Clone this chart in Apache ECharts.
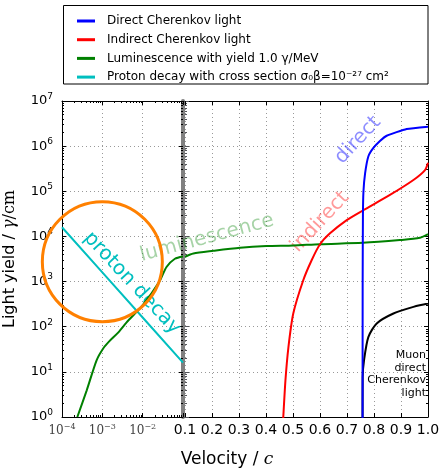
<!DOCTYPE html>
<html>
<head>
<meta charset="utf-8">
<script src="https://cdn.jsdelivr.net/npm/echarts@6/dist/echarts.min.js"></script>
<style>
html, body { margin: 0; padding: 0; background: #fff; }
#chart { width: 440px; height: 474px; }
</style>
</head>
<body>
<div id="chart"></div>
<script>
// values (velocity in units of c, light yield in photons/cm)
var legendNames = [
  'Direct Cherenkov light',
  'Indirect Cherenkov light',
  'Luminescence with yield 1.0 \u03b3/MeV',
  'Proton decay with cross section \u03c3\u2080\u03b2=10\u207b\u00b2\u2077 cm\u00b2'
]

var protonBeta = [1e-4, 1e-3, 1e-2, 1e-1]
var protonYield = [16000, 1600, 160, 16]

var lumiBetaLow = [2.4e-4, 4.1e-4, 7.2e-4, 1.05e-3, 1.5e-3, 2.5e-3, 4e-3, 1e-2, 2.6e-2, 3.9e-2, 6.3e-2, 1e-1]
var lumiYieldLow = [1, 3.9, 18, 33, 48, 75, 125, 300, 1000, 2100, 3200, 3600]

var lumiBetaHigh = [0.1, 0.131, 0.205, 0.304, 0.402, 0.501, 0.6, 0.758, 0.896, 0.97, 1.0]
var lumiYieldHigh = [3550, 4200, 4800, 5600, 6100, 6300, 6750, 7200, 8300, 9300, 11200]

var indirectBeta = [0.463, 0.464, 0.472, 0.483, 0.501, 0.538, 0.569, 0.6, 0.637, 0.699, 0.76, 0.859, 0.946, 0.989, 1.0]
var indirectYield = [0.8, 1, 6.5, 35, 196, 1070, 2970, 6700, 11700, 23000, 38000, 83000, 178000, 295000, 427000]

var directBeta = [0.7576, 0.758, 0.759, 0.761, 0.767, 0.779, 0.797, 0.822, 0.847, 0.921, 1.0]
var directYield = [0.5, 1000, 30000, 100000, 250000, 590000, 900000, 1300000, 1700000, 2400000, 2700000]

var muonBeta = [0.7576, 0.758, 0.763, 0.779, 0.81, 0.872, 0.946, 1.0]
var muonYield = [0.5, 7.7, 18, 59, 118, 196, 275, 326]

var circleBeta = [1e-3]
var circleYield = [2750]

var velocityTicks = ['0.1', '0.2', '0.3', '0.4', '0.5', '0.6', '0.7', '0.8', '0.9', '1.0']

function zip(xs, ys) {
  return xs.map(function(x, i) { return [x, ys[i]] })
}

var FONT = 'DejaVu Sans'
var gridLine = { show: true, lineStyle: { color: '#999', type: [1, 3], width: 1 } }
var spine = { show: true, lineStyle: { color: '#000', width: 1 } }

function powLabel(v) {
  var e = Math.round(Math.log10(v))
  return '{b|10}{s|' + String(e).replace('-', '\u2212') + '}'
}

var chart = echarts.init(document.getElementById('chart'))

chart.setOption({
  animation: false,
  textStyle: { fontFamily: FONT },
  legend: {
    data: legendNames,
    orient: 'vertical',
    left: 72,
    top: 9,
    icon: 'rect',
    itemWidth: 18,
    itemHeight: 3,
    itemGap: 4.7,
    selectedMode: false,
    textStyle: { fontFamily: FONT, fontSize: 12, color: '#000', lineHeight: 14, padding: [0, 0, 0, 7] }
  },
  grid: [
    { left: 62, top: 101, width: 121, height: 316, outerBoundsMode: 'none' },
    { left: 185, top: 101, width: 243, height: 316, outerBoundsMode: 'none' }
  ],
  xAxis: [
    {
      gridIndex: 0, type: 'log', logBase: 10, min: 1e-4, max: 1e-1, splitNumber: 3,
      position: 'bottom', axisLine: spine,
      axisTick: { inside: true, length: 4 },
      minorTick: { show: true, splitNumber: 9, length: 2 },
      splitLine: gridLine,
      axisLabel: {
        margin: 6,
        formatter: function(v) { return v >= 0.099 ? '' : powLabel(v) },
        rich: {
          b: { fontFamily: 'DejaVu Serif', fontSize: 12, color: '#444' },
          s: { fontFamily: 'DejaVu Serif', fontSize: 8, color: '#444', padding: [0, 0, 8, 0] }
        }
      }
    },
    {
      gridIndex: 0, type: 'log', logBase: 10, min: 1e-4, max: 1e-1, splitNumber: 3,
      position: 'top', axisLine: spine,
      axisTick: { inside: true, length: 4 },
      minorTick: { show: true, splitNumber: 9, length: 2 },
      axisLabel: { show: false }, splitLine: { show: false }
    },
    {
      gridIndex: 1, type: 'value', min: 0.1, max: 1.0, interval: 0.1,
      position: 'bottom', axisLine: spine,
      axisTick: { inside: true, length: 4 },
      splitLine: gridLine,
      axisLabel: {
        margin: 6, fontSize: 14, color: '#000',
        formatter: function(v) { return velocityTicks[Math.round(v * 10) - 1] }
      }
    },
    {
      gridIndex: 1, type: 'value', min: 0.1, max: 1.0, interval: 0.1,
      position: 'top', axisLine: spine,
      axisTick: { inside: true, length: 4 },
      axisLabel: { show: false }, splitLine: { show: false }
    }
  ],
  yAxis: [
    {
      gridIndex: 0, type: 'log', logBase: 10, min: 1, max: 1e7, splitNumber: 7,
      position: 'left', axisLine: spine,
      axisTick: { inside: true, length: 4 },
      minorTick: { show: true, splitNumber: 9, length: 2 },
      splitLine: gridLine,
      name: '{t|Light yield / }{g|\u03b3}{m|/cm}',
      nameLocation: 'middle',
      nameGap: 44,
      nameTextStyle: {
        rich: {
          t: { fontFamily: FONT, fontSize: 16, color: '#000' },
          g: { fontFamily: 'DejaVu Serif', fontStyle: 'italic', fontSize: 16, color: '#000' },
          m: { fontFamily: 'DejaVu Serif', fontSize: 16, color: '#000' }
        }
      },
      axisLabel: {
        margin: 9,
        formatter: powLabel,
        rich: {
          b: { fontFamily: FONT, fontSize: 13, color: '#000' },
          s: { fontFamily: FONT, fontSize: 9, color: '#000', padding: [0, 0, 9, 0] }
        }
      }
    },
    {
      gridIndex: 0, type: 'log', logBase: 10, min: 1, max: 1e7, splitNumber: 7,
      position: 'right',
      axisLine: { show: true, lineStyle: { color: '#808080', width: 4 } },
      axisTick: { inside: true, length: 4, lineStyle: { color: '#000' } },
      minorTick: { show: true, splitNumber: 9, length: 2, lineStyle: { color: '#000' } },
      axisLabel: { show: false }, splitLine: { show: false }
    },
    {
      gridIndex: 1, type: 'log', logBase: 10, min: 1, max: 1e7, splitNumber: 7,
      position: 'left', axisLine: { show: false },
      axisTick: { inside: true, length: 4 },
      minorTick: { show: true, splitNumber: 9, length: 2 },
      splitLine: gridLine,
      axisLabel: { show: false }
    },
    {
      gridIndex: 1, type: 'log', logBase: 10, min: 1, max: 1e7, splitNumber: 7,
      position: 'right', axisLine: spine,
      axisTick: { inside: true, length: 4 },
      minorTick: { show: true, splitNumber: 9, length: 2 },
      axisLabel: { show: false }, splitLine: { show: false }
    }
  ],
  graphic: [
    { type: 'rect', z: 0, shape: { x: 63.5, y: 5.5, width: 364.5, height: 78.5 },
      style: { fill: '#fff', stroke: '#000', lineWidth: 1 } },
    { type: 'text', z: 1, x: 132, y: 283, rotation: -47 * Math.PI / 180,
      style: { text: 'proton decay', fill: '#00bfbf', font: '20px "DejaVu Sans"', textAlign: 'center', textVerticalAlign: 'middle' } },
    { type: 'text', z: 1, x: 207, y: 238, rotation: 15 * Math.PI / 180,
      style: { text: 'luminescence', fill: 'rgba(0,128,0,0.35)', font: '20px "DejaVu Sans"', textAlign: 'center', textVerticalAlign: 'middle' } },
    { type: 'text', z: 1, x: 320, y: 222, rotation: 47 * Math.PI / 180,
      style: { text: 'indirect', fill: 'rgba(255,0,0,0.4)', font: '20px "DejaVu Sans"', textAlign: 'center', textVerticalAlign: 'middle' } },
    { type: 'text', z: 1, x: 358, y: 140, rotation: 47 * Math.PI / 180,
      style: { text: 'direct', fill: 'rgba(0,0,255,0.45)', font: '20px "DejaVu Sans"', textAlign: 'center', textVerticalAlign: 'middle' } },
    { type: 'text', z: 1, x: 426, y: 374,
      style: { text: 'Muon\ndirect\nCherenkov\nlight', fill: '#000', font: '11px "DejaVu Sans"', lineHeight: 12.7, textAlign: 'right', textVerticalAlign: 'middle' } },
    { type: 'text', z: 1, x: 227, y: 460,
      style: { text: '{t|Velocity / }{c|c}', textAlign: 'center', textVerticalAlign: 'middle',
        rich: {
          t: { fontFamily: FONT, fontSize: 17, fill: '#000' },
          c: { fontFamily: 'DejaVu Serif', fontStyle: 'italic', fontSize: 17, fill: '#000' }
        } } }
  ],
  series: [
    {
      name: legendNames[3], type: 'line', xAxisIndex: 0, yAxisIndex: 0,
      data: zip(protonBeta, protonYield), symbol: 'none',
      lineStyle: { color: '#00bfbf', width: 2 }, itemStyle: { color: '#00bfbf' }
    },
    {
      name: legendNames[2], type: 'line', xAxisIndex: 0, yAxisIndex: 0,
      data: zip(lumiBetaLow, lumiYieldLow), symbol: 'none', smooth: 0.25,
      lineStyle: { color: '#008000', width: 2 }, itemStyle: { color: '#008000' }
    },
    {
      name: 'circle', type: 'scatter', xAxisIndex: 0, yAxisIndex: 0, clip: false,
      data: zip(circleBeta, circleYield), symbol: 'circle', symbolSize: 120, z: 5,
      emphasis: { disabled: true },
      itemStyle: { color: 'rgba(0,0,0,0)', borderColor: '#ff8000', borderWidth: 3, opacity: 1 }
    },
    {
      name: legendNames[2], type: 'line', xAxisIndex: 2, yAxisIndex: 2,
      data: zip(lumiBetaHigh, lumiYieldHigh), symbol: 'none', smooth: 0.25,
      lineStyle: { color: '#008000', width: 2 }, itemStyle: { color: '#008000' }
    },
    {
      name: legendNames[1], type: 'line', xAxisIndex: 2, yAxisIndex: 2,
      data: zip(indirectBeta, indirectYield), symbol: 'none', smooth: 0.25,
      lineStyle: { color: '#ff0000', width: 2 }, itemStyle: { color: '#ff0000' }
    },
    {
      name: 'muon', type: 'line', xAxisIndex: 2, yAxisIndex: 2,
      data: zip(muonBeta, muonYield), symbol: 'none', smooth: 0.25,
      lineStyle: { color: '#000', width: 2 }, itemStyle: { color: '#000' }
    },
    {
      name: legendNames[0], type: 'line', xAxisIndex: 2, yAxisIndex: 2,
      data: zip(directBeta, directYield), symbol: 'none', smooth: 0.15,
      lineStyle: { color: '#0000ff', width: 2 }, itemStyle: { color: '#0000ff' }
    }
  ]
})
</script>
</body>
</html>
